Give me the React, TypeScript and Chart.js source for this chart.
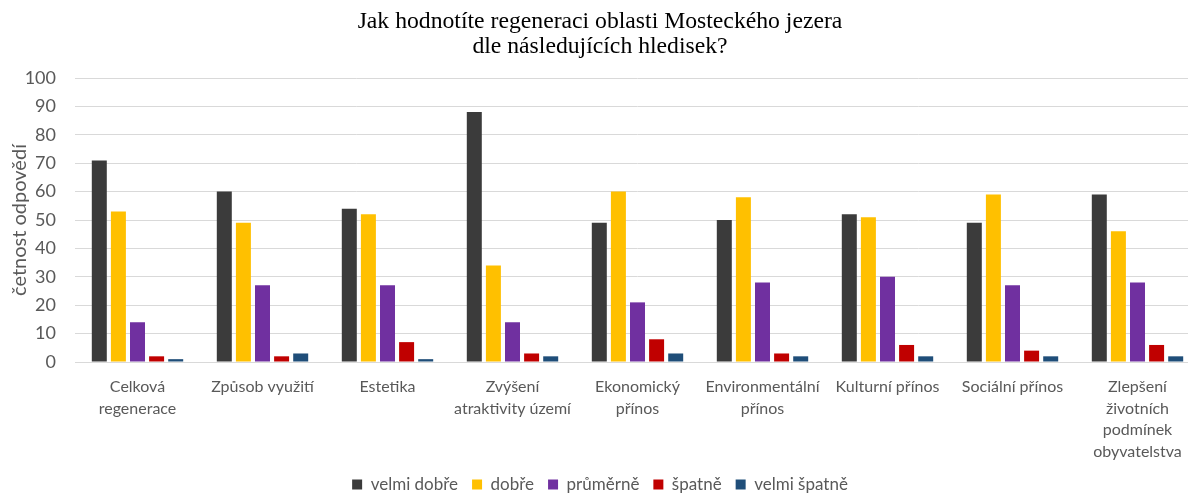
import React, { useEffect, useRef } from "react";
import { Chart, registerables } from "chart.js";

Chart.register(...registerables);

const titleLines = ["Jak hodnotíte regeneraci oblasti Mosteckého jezera", "dle následujících hledisek?"];
const categories = [
  ["Celková", "regenerace"],
  ["Způsob využití"],
  ["Estetika"],
  ["Zvýšení", "atraktivity území"],
  ["Ekonomický", "přínos"],
  ["Environmentální", "přínos"],
  ["Kulturní přínos"],
  ["Sociální přínos"],
  ["Zlepšení", "životních", "podmínek", "obyvatelstva"],
];
const seriesNames = ["velmi dobře", "dobře", "průměrně", "špatně", "velmi špatně"];
const velmiDobre = [71, 60, 54, 88, 49, 50, 52, 49, 59];
const dobre = [53, 49, 52, 34, 60, 58, 51, 59, 46];
const prumerne = [14, 27, 27, 14, 21, 28, 30, 27, 28];
const spatne = [2, 2, 7, 3, 8, 3, 6, 4, 6];
const velmiSpatne = [1, 3, 1, 2, 3, 2, 2, 2, 2];
const seriesColors = ["#3B3B3B", "#FFC000", "#7030A0", "#C00000", "#1F4E79"];
const yAxisTitle = "četnost odpovědí";
const yMin = 0;
const yMax = 100;
const yStep = 10;

export default function App() {
  const ref = useRef<HTMLCanvasElement | null>(null);

  useEffect(() => {
    if (!ref.current) return;
    const allSeries = [velmiDobre, dobre, prumerne, spatne, velmiSpatne];
    const chart = new Chart(ref.current, {
      type: "bar",
      data: {
        labels: categories,
        datasets: allSeries.map((d, i) => ({
          label: seriesNames[i],
          data: d,
          backgroundColor: seriesColors[i],
          borderWidth: 0,
          barPercentage: 0.785,
          categoryPercentage: 0.764,
        })),
      },
      options: {
        responsive: false,
        animation: false,
        layout: { padding: { left: 0, right: 0, top: 0, bottom: -10 } },
        plugins: {
          tooltip: { enabled: false },
          title: {
            display: true,
            text: titleLines,
            color: "#000000",
            font: { family: "'Liberation Serif', serif", size: 23.7, weight: "normal", lineHeight: 1.085 },
            padding: { top: 8.5, bottom: 18.1 },
          },
          legend: {
            position: "bottom",
            labels: {
              color: "#595959",
              font: { family: "Lato, 'Open Sans', sans-serif", size: 17 },
              boxWidth: 10,
              boxHeight: 10,
              padding: 14,
            },
          },
        },
        scales: {
          x: {
            grid: { display: false, drawTicks: false },
            border: { display: true, color: "#D9D9D9", width: 1 },
            ticks: {
              color: "#595959",
              font: { family: "Lato, 'Open Sans', sans-serif", size: 16, lineHeight: 1.35 },
              padding: 14,
              maxRotation: 0,
              autoSkip: false,
            },
            afterFit: (scale: any) => {
              scale.height = 100;
            },
          },
          y: {
            min: yMin,
            max: yMax,
            grid: { color: "#D9D9D9", lineWidth: 1, drawTicks: false },
            border: { display: false },
            ticks: {
              stepSize: yStep,
              color: "#595959",
              font: { family: "Lato, 'Open Sans', sans-serif", size: 18 },
              padding: 19,
            },
            title: {
              display: true,
              text: yAxisTitle,
              color: "#595959",
              font: { family: "Lato, 'Open Sans', sans-serif", size: 20 },
              padding: { top: 8, bottom: 0 },
            },
            afterFit: (scale: any) => {
              scale.width = 75;
            },
          },
        },
      },
    } as any);
    return () => chart.destroy();
  }, []);

  return (
    <div style={{ position: "absolute", left: 0, top: 0, width: 1188, height: 493, overflow: "hidden", background: "#ffffff" }}>
      <canvas ref={ref} width={1200} height={493} style={{ display: "block", width: 1200, height: 493 }} />
    </div>
  );
}
